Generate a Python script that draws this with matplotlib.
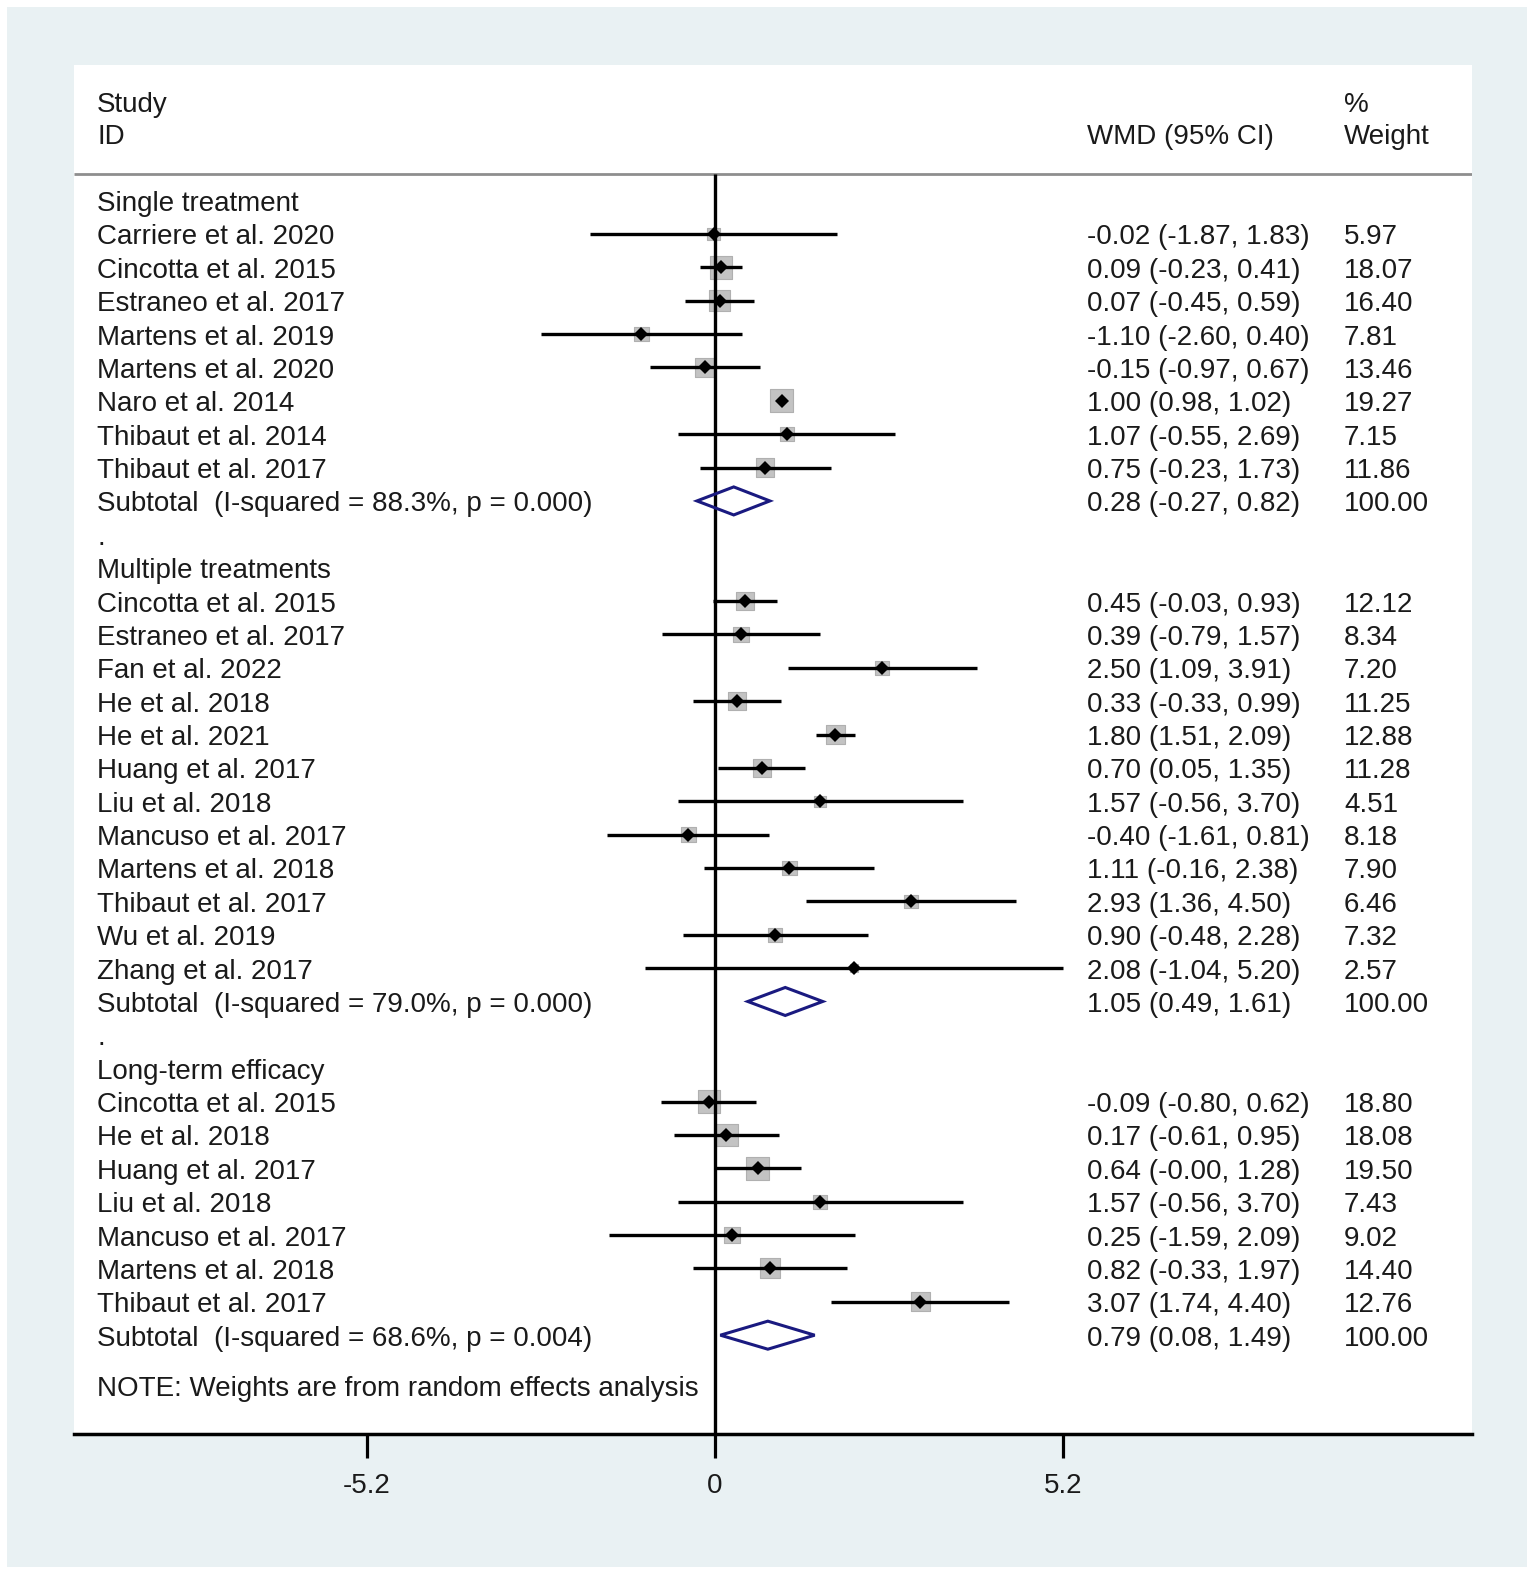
import matplotlib
matplotlib.use("Agg")
import matplotlib.pyplot as plt
from matplotlib.patches import Rectangle, Polygon
from matplotlib.transforms import offset_copy
import numpy as np

plt.rcParams['font.family'] = ['Liberation Sans', 'DejaVu Sans']
plt.rcParams['axes.unicode_minus'] = False

# ---------------- data ----------------
group_names = ["Single treatment", "Multiple treatments", "Long-term efficacy"]

single_studies = ["Carriere et al. 2020", "Cincotta et al. 2015", "Estraneo et al. 2017",
                  "Martens et al. 2019", "Martens et al. 2020", "Naro et al. 2014",
                  "Thibaut et al. 2014", "Thibaut et al. 2017"]
single_est = [-0.02, 0.09, 0.07, -1.10, -0.15, 1.00, 1.07, 0.75]
single_lo = [-1.87, -0.23, -0.45, -2.60, -0.97, 0.98, -0.55, -0.23]
single_hi = [1.83, 0.41, 0.59, 0.40, 0.67, 1.02, 2.69, 1.73]
single_w = [5.97, 18.07, 16.40, 7.81, 13.46, 19.27, 7.15, 11.86]

multi_studies = ["Cincotta et al. 2015", "Estraneo et al. 2017", "Fan et al. 2022",
                 "He et al. 2018", "He et al. 2021", "Huang et al. 2017", "Liu et al. 2018",
                 "Mancuso et al. 2017", "Martens et al. 2018", "Thibaut et al. 2017",
                 "Wu et al. 2019", "Zhang et al. 2017"]
multi_est = [0.45, 0.39, 2.50, 0.33, 1.80, 0.70, 1.57, -0.40, 1.11, 2.93, 0.90, 2.08]
multi_lo = [-0.03, -0.79, 1.09, -0.33, 1.51, 0.05, -0.56, -1.61, -0.16, 1.36, -0.48, -1.04]
multi_hi = [0.93, 1.57, 3.91, 0.99, 2.09, 1.35, 3.70, 0.81, 2.38, 4.50, 2.28, 5.20]
multi_w = [12.12, 8.34, 7.20, 11.25, 12.88, 11.28, 4.51, 8.18, 7.90, 6.46, 7.32, 2.57]

long_studies = ["Cincotta et al. 2015", "He et al. 2018", "Huang et al. 2017",
                "Liu et al. 2018", "Mancuso et al. 2017", "Martens et al. 2018",
                "Thibaut et al. 2017"]
long_est = [-0.09, 0.17, 0.64, 1.57, 0.25, 0.82, 3.07]
long_lo = [-0.80, -0.61, -0.00, -0.56, -1.59, -0.33, 1.74]
long_hi = [0.62, 0.95, 1.28, 3.70, 2.09, 1.97, 4.40]
long_w = [18.80, 18.08, 19.50, 7.43, 9.02, 14.40, 12.76]

sub_est = [0.28, 1.05, 0.79]
sub_lo = [-0.27, 0.49, 0.08]
sub_hi = [0.82, 1.61, 1.49]
sub_isq = [88.3, 79.0, 68.6]
sub_p = [0.000, 0.000, 0.004]

tick_values = [-5.2, 0, 5.2]
tick_labels = ["-5.2", "0", "5.2"]

note_text = "NOTE: Weights are from random effects analysis"

# ---------------- layout ----------------
W, H, DPI = 1535, 1576, 100
fig = plt.figure(figsize=(W / DPI, H / DPI), dpi=DPI)
fig.patch.set_facecolor('white')

# outer grey-blue background (separate axes underneath)
bg = fig.add_axes([0, 0, 1, 1], zorder=0)
bg.set_xlim(0, W)
bg.set_ylim(H, 0)
bg.axis('off')
bg.add_patch(Rectangle((7, 7), 1527 - 7, 1567 - 7, facecolor='#e9f1f3', edgecolor='none'))

PX_L, PX_R, PX_T, PX_B = 74, 1472, 65, 1434
ax = fig.add_axes([PX_L / W, 1 - PX_B / H, (PX_R - PX_L) / W, (PX_B - PX_T) / H], zorder=2)
ax.set_facecolor('white')

X0, XS = 715.0, 66.9      # pixel of zero, pixels per unit
R0, RS = 200.6, 33.37     # pixel of row 0, pixels per row


def px2x(px):
    return (px - X0) / XS


def px2r(py):
    return (py - R0) / RS


ax.set_xlim(px2x(PX_L), px2x(PX_R))
ax.set_ylim(px2r(PX_B), px2r(PX_T))

for s in ['top', 'left', 'right']:
    ax.spines[s].set_visible(False)
ax.spines['bottom'].set_linewidth(2.5)
ax.spines['bottom'].set_color('black')
ax.set_yticks([])
ax.set_xticks(tick_values)
ax.set_xticklabels(tick_labels)
ax.tick_params(axis='x', direction='out', length=17, width=2.3, pad=11,
               labelsize=20, labelcolor='#1a1a1a', colors='black')

TXT = '#1a1a1a'
FS = 20
ttrans = offset_copy(ax.transData, fig=fig, x=0, y=-10.5, units='dots')
COL_L, COL_M, COL_R = px2x(97), px2x(1087), px2x(1344)


def put(x, r, s):
    ax.text(x, r, s, transform=ttrans, va='baseline', ha='left',
            fontsize=FS, color=TXT, clip_on=False)


# header
put(COL_L, px2r(102), "Study")
put(COL_L, px2r(134), "ID")
put(COL_M, px2r(134), "WMD (95% CI)")
put(COL_R, px2r(102), "%")
put(COL_R, px2r(134), "Weight")
hdr_r = px2r(174)
ax.plot([ax.get_xlim()[0], ax.get_xlim()[1]], [hdr_r, hdr_r], color='#8e8e8e',
        lw=2.0, solid_capstyle='butt', zorder=2)

# null line
ax.plot([0, 0], [hdr_r, px2r(PX_B)], color='black', lw=2.4, zorder=3,
        solid_capstyle='butt')

groups = [
    (single_studies, single_est, single_lo, single_hi, single_w),
    (multi_studies, multi_est, multi_lo, multi_hi, multi_w),
    (long_studies, long_est, long_lo, long_hi, long_w),
]

BOX_K = 3.8  # points per sqrt(weight)
r = 0
for gi, (names, est, lo, hi, w) in enumerate(groups):
    put(COL_L, r, group_names[gi])
    r += 1
    rows = np.arange(r, r + len(names))
    est = np.array(est); lo = np.array(lo); hi = np.array(hi); w = np.array(w)
    ax.scatter(est, rows, s=(BOX_K * np.sqrt(w)) ** 2, marker='s',
               facecolor='#c3c3c3', edgecolor='#b0b0b0', linewidth=0.8, zorder=2)
    ax.hlines(rows, lo, hi, color='black', lw=2.4, zorder=3)
    ax.plot(est, rows, linestyle='none', marker='D', markersize=7.6,
            color='black', markeredgewidth=0, zorder=4)
    for k, name in enumerate(names):
        put(COL_L, rows[k], name)
        put(COL_M, rows[k], f"{est[k]:.2f} ({lo[k]:.2f}, {hi[k]:.2f})")
        put(COL_R, rows[k], f"{w[k]:.2f}")
    r += len(names)
    # subtotal
    put(COL_L, r, f"Subtotal  (I-squared = {sub_isq[gi]:.1f}%, p = {sub_p[gi]:.3f})")
    put(COL_M, r, f"{sub_est[gi]:.2f} ({sub_lo[gi]:.2f}, {sub_hi[gi]:.2f})")
    put(COL_R, r, "100.00")
    hh = 0.42
    dia = Polygon([(sub_lo[gi], r), (sub_est[gi], r - hh), (sub_hi[gi], r),
                   (sub_est[gi], r + hh)], closed=True, fill=False,
                  edgecolor='#1a1a80', lw=2.2, zorder=4, joinstyle='miter')
    ax.add_patch(dia)
    r += 1
    if gi < len(groups) - 1:
        put(COL_L, r, ".")
        r += 1

put(COL_L, r + 0.5, note_text)

fig.savefig("out.png", dpi=DPI, facecolor=fig.get_facecolor())
